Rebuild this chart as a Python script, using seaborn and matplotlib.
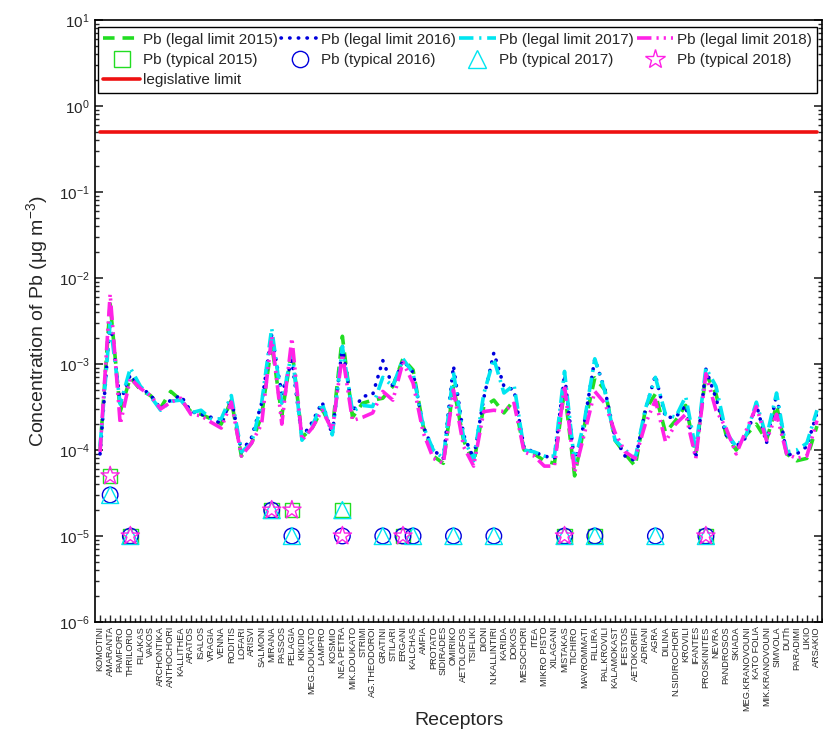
import numpy as np
import pandas as pd
import seaborn as sns
import matplotlib.pyplot as plt
from matplotlib.lines import Line2D
from matplotlib.ticker import FixedLocator, LogLocator, NullFormatter

receptors = [
    "KOMOTINI", "AMARANTA", "PAMFORO", "THRILORIO", "FILAKAS", "VAKOS",
    "ARCHONTIKA", "ANTHOCHORI", "KALLITHEA", "ARATOS", "ISALOS", "VRAGIA",
    "VENNA", "RODITIS", "LOFARI", "ARISVI", "SALMONI", "MIRANA", "PASSOS",
    "PELAGIA", "KIKIDIO", "MEG.DOUKATO", "LAMPRO", "KOSMIO", "NEA PETRA",
    "MIK.DOUKATO", "STRIMI", "AG.THEODOROI", "GRATINI", "STILARI", "ERGANI",
    "KALCHAS", "AMFIA", "PROTATO", "SIDIRADES", "OMIRIKO", "AETOLOFOS",
    "TSIFLIKI", "DIONI", "N.KALLINTIRI", "KARIDA", "DOKOS", "MESOCHORI",
    "ITEA", "MIKRO PISTO", "XILAGANI", "MISTAKAS", "TICHIRO", "MAVROMMATI",
    "FILLIRA", "PAL.KROVILI", "KALAMOKAST", "IFESTOS", "AETOKORIFI",
    "ADRIANI", "AGRA", "DILINA", "N.SIDIROCHORI", "KROVILI", "IFANTES",
    "PROSKINITES", "NEVRA", "PANDROSOS", "SKIADA", "MEG.KRANOVOUNI",
    "KATO FOLIA", "MIK.KRANOVOUNI", "SIMVOLA", "DUTh", "PARADIMI", "LIKIO",
    "ARSAKIO",
]

legal_2015 = [
    1.0e-4, 5.0e-3, 2.8e-4, 7.0e-4, 5.0e-4, 4.3e-4, 3.1e-4, 4.8e-4, 3.8e-4,
    2.8e-4, 2.6e-4, 2.3e-4, 2.0e-4, 3.8e-4, 8.5e-5, 1.2e-4, 2.5e-4, 1.7e-3,
    2.5e-4, 1.5e-3, 1.4e-4, 1.8e-4, 3.0e-4, 1.7e-4, 2.1e-3, 2.4e-4, 3.5e-4,
    3.8e-4, 4.0e-4, 5.5e-4, 1.15e-3, 8.5e-4, 1.9e-4, 8.5e-5, 7.0e-5, 5.5e-4,
    1.3e-4, 7.0e-5, 3.2e-4, 3.8e-4, 2.7e-4, 3.8e-4, 1.0e-4, 9.0e-5, 7.5e-5,
    7.0e-5, 5.0e-4, 5.0e-5, 2.0e-4, 6.9e-4, 5.0e-4, 1.3e-4, 9.0e-5, 6.5e-5,
    2.9e-4, 4.5e-4, 1.6e-4, 2.2e-4, 3.3e-4, 9.0e-5, 7.7e-4, 4.5e-4, 1.5e-4,
    1.0e-4, 1.5e-4, 2.0e-4, 1.3e-4, 3.3e-4, 9.0e-5, 7.5e-5, 8.0e-5, 1.9e-4,
]
legal_2016 = [
    9.0e-5, 3.2e-3, 3.6e-4, 7.5e-4, 5.3e-4, 4.4e-4, 3.0e-4, 3.8e-4, 4.3e-4,
    2.8e-4, 2.6e-4, 2.4e-4, 2.0e-4, 4.0e-4, 9.5e-5, 1.4e-4, 3.5e-4, 2.2e-3,
    4.5e-4, 1.1e-3, 1.4e-4, 2.1e-4, 3.6e-4, 1.5e-4, 1.6e-3, 2.8e-4, 4.2e-4,
    4.4e-4, 1.1e-3, 5.5e-4, 1.1e-3, 8.0e-4, 1.9e-4, 1.0e-4, 8.0e-5, 9.5e-4,
    1.5e-4, 8.0e-5, 4.0e-4, 1.35e-3, 5.5e-4, 5.0e-4, 1.05e-4, 9.5e-5, 8.5e-5,
    8.0e-5, 7.5e-4, 7.0e-5, 2.2e-4, 1.15e-3, 5.0e-4, 1.4e-4, 8.5e-5, 7.5e-5,
    2.9e-4, 7.4e-4, 2.4e-4, 2.4e-4, 3.3e-4, 8.0e-5, 8.7e-4, 4.0e-4, 1.5e-4,
    1.1e-4, 1.4e-4, 3.4e-4, 1.2e-4, 4.4e-4, 8.8e-5, 9.0e-5, 1.1e-4, 2.7e-4,
]
legal_2017 = [
    1.1e-4, 3.0e-3, 3.4e-4, 9.0e-4, 5.5e-4, 4.2e-4, 2.9e-4, 3.7e-4, 3.8e-4,
    2.7e-4, 2.9e-4, 2.3e-4, 2.3e-4, 4.3e-4, 9.5e-5, 1.2e-4, 3.5e-4, 2.6e-3,
    3.5e-4, 1.4e-3, 1.3e-4, 1.9e-4, 3.5e-4, 1.5e-4, 1.6e-3, 2.8e-4, 3.3e-4,
    3.2e-4, 7.0e-4, 5.5e-4, 1.15e-3, 7.8e-4, 1.9e-4, 1.0e-4, 8.0e-5, 8.0e-4,
    1.4e-4, 7.5e-5, 4.5e-4, 1.15e-3, 4.6e-4, 5.7e-4, 1.0e-4, 9.5e-5, 8.5e-5,
    8.5e-5, 8.2e-4, 7.0e-5, 2.3e-4, 1.15e-3, 4.8e-4, 1.3e-4, 1.0e-4, 8.0e-5,
    3.0e-4, 7.0e-4, 2.6e-4, 2.4e-4, 4.2e-4, 1.0e-4, 9.0e-4, 5.5e-4, 1.6e-4,
    1.1e-4, 1.5e-4, 3.6e-4, 1.4e-4, 4.6e-4, 9.5e-5, 1.0e-4, 1.2e-4, 2.9e-4,
]
legal_2018 = [
    9.5e-5, 6.5e-3, 2.0e-4, 6.8e-4, 5.2e-4, 4.3e-4, 3.0e-4, 3.6e-4, 4.0e-4,
    2.6e-4, 2.5e-4, 2.1e-4, 1.8e-4, 3.6e-4, 8.5e-5, 1.2e-4, 2.0e-4, 2.1e-3,
    2.0e-4, 2.0e-3, 1.3e-4, 1.8e-4, 2.9e-4, 1.7e-4, 1.3e-3, 2.2e-4, 2.4e-4,
    2.7e-4, 4.8e-4, 3.8e-4, 1.05e-3, 6.0e-4, 1.6e-4, 8.0e-5, 7.0e-5, 5.0e-4,
    1.1e-4, 6.5e-5, 2.8e-4, 2.9e-4, 2.8e-4, 3.5e-4, 9.5e-5, 8.5e-5, 6.5e-5,
    6.5e-5, 5.7e-4, 5.5e-5, 1.6e-4, 4.8e-4, 3.5e-4, 1.6e-4, 9.5e-5, 8.0e-5,
    2.0e-4, 3.8e-4, 1.25e-4, 2.0e-4, 2.6e-4, 8.0e-5, 7.7e-4, 2.9e-4, 1.8e-4,
    9.0e-5, 1.7e-4, 3.2e-4, 1.3e-4, 2.6e-4, 9.0e-5, 8.0e-5, 8.5e-5, 2.2e-4,
]

typical_2015_sites = ["AMARANTA", "THRILORIO", "MIRANA", "PELAGIA", "NEA PETRA",
                      "ERGANI", "MISTAKAS", "FILLIRA", "PROSKINITES"]
typical_2015_vals = [5e-5, 1e-5, 2e-5, 2e-5, 2e-5, 1e-5, 1e-5, 1e-5, 1e-5]

typical_2016_sites = ["AMARANTA", "THRILORIO", "MIRANA", "PELAGIA", "NEA PETRA",
                      "GRATINI", "ERGANI", "KALCHAS", "OMIRIKO", "N.KALLINTIRI",
                      "MISTAKAS", "FILLIRA", "AGRA", "PROSKINITES"]
typical_2016_vals = [3e-5, 1e-5, 2e-5, 1e-5, 1e-5, 1e-5, 1e-5, 1e-5, 1e-5,
                     1e-5, 1e-5, 1e-5, 1e-5, 1e-5]

typical_2017_sites = ["AMARANTA", "THRILORIO", "MIRANA", "PELAGIA", "NEA PETRA",
                      "GRATINI", "KALCHAS", "OMIRIKO", "N.KALLINTIRI",
                      "MISTAKAS", "FILLIRA", "AGRA", "PROSKINITES"]
typical_2017_vals = [3e-5, 1e-5, 2e-5, 1e-5, 2e-5, 1e-5, 1e-5, 1e-5, 1e-5,
                     1e-5, 1e-5, 1e-5, 1e-5]

typical_2018_sites = ["AMARANTA", "THRILORIO", "MIRANA", "PELAGIA", "NEA PETRA",
                      "ERGANI", "MISTAKAS", "PROSKINITES"]
typical_2018_vals = [5e-5, 1e-5, 2e-5, 2e-5, 1e-5, 1e-5, 1e-5, 1e-5]

legislative_limit = 0.5

sns.set_style("ticks")
plt.rcParams['font.family'] = ['Liberation Sans', 'DejaVu Sans']
plt.rcParams['mathtext.default'] = 'regular'

pos = np.arange(1, len(receptors) + 1)

fig = plt.figure(figsize=(8.23, 7.40), dpi=100)
ax = fig.add_axes([95 / 823, 118 / 740, 727 / 823, 602 / 740])
ax.set_yscale('log')

lw = 2.6
line_specs = [
    ("Pb (legal limit 2015)", legal_2015, '#22dd22', (0, (3.2, 2.2)), 'butt'),
    ("Pb (legal limit 2016)", legal_2016, '#0000dd', (0, (0.1, 2.3)), 'round'),
    ("Pb (legal limit 2017)", legal_2017, '#00e5f0', (0, (4, 1.6, 0.6, 1.6)), 'butt'),
    ("Pb (legal limit 2018)", legal_2018, '#ff22e6',
     (0, (4, 1.4, 0.6, 1.4, 0.6, 1.4)), 'butt'),
]
line_handles = []
for label, vals, col, ls, cap in line_specs:
    sns.lineplot(x=pos, y=vals, ax=ax, color=col, linestyle=ls, lw=lw,
                 dash_capstyle=cap, label=label, legend=False)
    line_handles.append(Line2D([], [], color=col, linestyle=ls, lw=lw,
                               dash_capstyle=cap, label=label))

marker_specs = [
    ("Pb (typical 2015)", typical_2015_sites, typical_2015_vals, '#22dd22', 's', 110),
    ("Pb (typical 2016)", typical_2016_sites, typical_2016_vals, '#0000dd', 'o', 125),
    ("Pb (typical 2017)", typical_2017_sites, typical_2017_vals, '#00e5f0', '^', 150),
    ("Pb (typical 2018)", typical_2018_sites, typical_2018_vals, '#ff22e6', '*', 190),
]
marker_handles = []
for label, sites, vals, col, mk, size in marker_specs:
    xs = [receptors.index(s) + 1 for s in sites]
    sns.scatterplot(x=xs, y=vals, ax=ax, marker=mk, s=size, facecolors='none',
                    edgecolors=col, linewidth=1.0, zorder=5, legend=False)
    marker_handles.append(Line2D([], [], color=col, marker=mk, linestyle='none',
                                 markerfacecolor='none', markeredgecolor=col,
                                 markersize=np.sqrt(size) * 1.05, label=label))

sns.lineplot(x=pos, y=[legislative_limit] * len(pos), ax=ax, color='#ee1111',
             lw=2.6, legend=False)
limit_handle = Line2D([], [], color='#ee1111', lw=2.6, label='legislative limit')

ax.set_xlim(0.5, len(receptors) + 0.5)
ax.set_ylim(1e-6, 1e1)

ax.set_xticks(pos)
ax.set_xticklabels(receptors, rotation=90, fontsize=6.6,
                   family=['Liberation Sans Narrow', 'Liberation Sans'])
ax.xaxis.set_minor_locator(FixedLocator(pos + 0.5))
ax.yaxis.set_major_locator(LogLocator(base=10, numticks=20))
ax.yaxis.set_minor_locator(LogLocator(base=10, subs=np.arange(2, 10), numticks=20))
ax.yaxis.set_minor_formatter(NullFormatter())
ax.tick_params(axis='y', which='major', direction='in', length=6, width=1.2,
               left=True, right=True, labelsize=11, pad=4)
ax.tick_params(axis='y', which='minor', direction='in', length=3, width=1,
               left=True, right=True)
ax.tick_params(axis='x', which='major', direction='in', length=5, width=1,
               bottom=True, top=False, pad=3)
ax.tick_params(axis='x', which='minor', direction='in', length=3, width=1,
               bottom=True, top=False)
for sp in ax.spines.values():
    sp.set_linewidth(1.2)
    sp.set_color('black')

ax.set_ylabel('Concentration of Pb (μg m$^{-3}$)', fontsize=14, labelpad=6)
ax.set_xlabel('Receptors', fontsize=14, labelpad=1)

blank = Line2D([], [], linestyle='none', marker=None, label=' ')
handles = [line_handles[0], marker_handles[0], limit_handle,
           line_handles[1], marker_handles[1], blank,
           line_handles[2], marker_handles[2], blank,
           line_handles[3], marker_handles[3], blank]
labels = [h.get_label() for h in handles]
labels = ['' if l == ' ' else l for l in labels]
leg = ax.legend(handles, labels, ncol=4, loc='upper left',
                bbox_to_anchor=(0.0, 0.993, 0.997, 0), mode='expand',
                fontsize=11, handlelength=2.4, handletextpad=0.2,
                columnspacing=0.2, borderaxespad=0.2, labelspacing=0.42,
                borderpad=0.35, fancybox=False, framealpha=1, edgecolor='black')
leg.get_frame().set_linewidth(1.0)

fig.savefig('out.png', dpi=100)
